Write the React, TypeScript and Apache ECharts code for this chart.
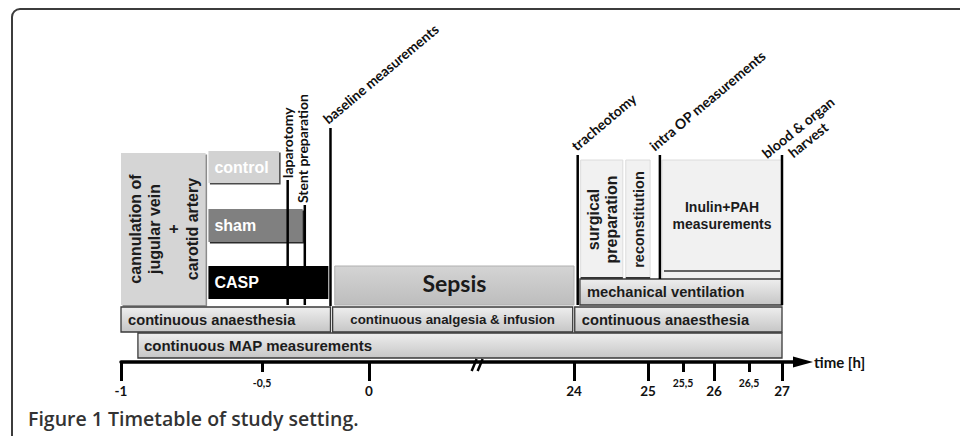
import React, { useEffect, useRef } from 'react';
import * as echarts from 'echarts';

// ---------- data ----------
// broken, schematic time axis: hour values of the ticks and their labels
const tickHours = [-1, -0.5, 0, 24, 25, 25.5, 26, 26.5, 27];
const tickLabels = ['-1', '-0,5', '0', '24', '25', '25,5', '26', '26,5', '27'];
// where each tick sits along the (non-linear) axis, in axis units
const tickSlots = [0, 141, 248, 453, 527, 562, 593, 628, 661];
const axisEndSlot = 682;
const axisTitle = 'time [h]';

// phases (boxes): label, start hour, end hour, row, look
const phaseNames = [
  'cannulation of\njugular vein\n+\ncarotid artery',
  'control',
  'sham',
  'CASP',
  'Sepsis',
  'surgical\npreparation',
  'reconstitution',
  'Inulin+PAH\nmeasurements',
  'mechanical ventilation',
  'continuous anaesthesia',
  'continuous analgesia & infusion',
  'continuous anaesthesia',
  'continuous MAP measurements',
];
const phaseStart = [-1, -0.69, -0.69, -0.69, -0.16, 24.09, 24.7, 25.2, 24.08, -1, -0.17, 24.01, -0.94];
const phaseEnd = [-0.7, -0.42, -0.31, -0.19, 24.0, 24.66, 25.03, 27, 27, -0.18, 23.85, 27, 27];
const phaseRow = ['cannulation', 'control', 'sham', 'casp', 'sepsis', 'op', 'op', 'op', 'ventilation', 'anaesthesia', 'anaesthesia', 'anaesthesia', 'map'];
const phaseLook = ['cannula', 'control', 'sham', 'casp', 'sepsis', 'opV', 'opV2', 'inulin', 'bar', 'bar', 'barCenter', 'bar', 'barMap'];

// events (vertical markers)
const eventNames = ['laparotomy', 'Stent preparation', 'baseline measurements', 'tracheotomy', 'intra OP measurements', 'blood & organ\nharvest'];
const eventHours = [-0.38, -0.3, -0.18, 24.05, 25.17, 27];

const caption = 'Figure 1 Timetable of study setting.';

// ---------- helpers ----------
function hourToSlot(h: number): number {
  const n = tickHours.length;
  for (let i = 0; i < n - 1; i++) {
    if (h <= tickHours[i + 1] || i === n - 2) {
      const t = (h - tickHours[i]) / (tickHours[i + 1] - tickHours[i]);
      return tickSlots[i] + t * (tickSlots[i + 1] - tickSlots[i]);
    }
  }
  return 0;
}

const ARIAL = '"Liberation Sans", Arial, sans-serif';
const CALIBRI = 'Lato, "Open Sans", sans-serif';

// layout (vertical rows, in y-axis units)
const Y_MAX = 362;
const ROWS: Record<string, [number, number]> = {
  cannulation: [153, 305],
  control: [151, 183],
  sham: [209, 242],
  casp: [266, 299],
  sepsis: [266, 305],
  op: [160, 279],
  ventilation: [279, 305],
  anaesthesia: [307, 332],
  map: [333, 358],
};
const EVENT_LAYOUT = [
  { top: 180, bottom: 305, mode: 'vertical', dx: 0, dy: -2 },
  { top: 205, bottom: 305, mode: 'vertical', dx: -2, dy: -2 },
  { top: 128, bottom: 306, mode: 'diag', dx: -1, dy: -2 },
  { top: 155, bottom: 305, mode: 'diag', dx: 0, dy: -2 },
  { top: 155, bottom: 279, mode: 'diag', dx: -4, dy: -2 },
  { top: 155, bottom: 305, mode: 'diag2', dx: 31, dy: -9 },
];

function grad(a: string, b: string) {
  return new echarts.graphic.LinearGradient(0, 0, 0, 1, [
    { offset: 0, color: a },
    { offset: 1, color: b },
  ]);
}

function lookStyle(look: string): any {
  const bar = { fill: grad('#eeeeee', '#c6c6c6'), stroke: '#3a3a3a', lineWidth: 1.3, text: 'left', size: 14.7, pad: 7, color: '#1c1c1c', family: ARIAL };
  switch (look) {
    case 'cannula':
      return { fill: '#d5d5d5', shadow: '#8c8c8c', text: 'vertical', size: 16, lineHeight: 19, color: '#1c1c1c', family: ARIAL };
    case 'control':
      return { fill: '#d2d2d2', shadow: '#4a4a4a', text: 'left', size: 16, pad: 6, color: '#ffffff', family: ARIAL };
    case 'sham':
      return { fill: '#808080', shadow: '#2a2a2a', text: 'left', size: 16, pad: 6, color: '#ffffff', family: ARIAL };
    case 'casp':
      return { fill: '#000000', text: 'left', size: 16, pad: 6, color: '#ffffff', family: ARIAL };
    case 'sepsis':
      return { fill: grad('#d4d4d4', '#bdbdbd'), stroke: '#b0b0b0', lineWidth: 1, text: 'center', size: 23, dy: -3, color: '#1a1a1a', family: CALIBRI };
    case 'opV':
      return { fill: '#f1f1f1', stroke: '#dcdcdc', lineWidth: 1, bottom: '#333333', text: 'vertical', size: 16, lineHeight: 18, color: '#1c1c1c', family: ARIAL };
    case 'opV2':
      return { fill: '#f1f1f1', stroke: '#dcdcdc', lineWidth: 1, bottom: '#333333', text: 'vertical', size: 14.5, lineHeight: 18, color: '#1c1c1c', family: ARIAL };
    case 'inulin':
      return { fill: '#f1f1f1', stroke: '#dcdcdc', lineWidth: 1, inner: '#333333', text: 'center', size: 14, lineHeight: 17, dy: -4, color: '#1c1c1c', family: ARIAL };
    case 'barCenter':
      return { ...bar, text: 'center', size: 13.3 };
    case 'barMap':
      return { ...bar, size: 15, pad: 6 };
    default:
      return bar;
  }
}

const intIdx = tickHours.map((h, i) => i).filter((i) => Number.isInteger(tickHours[i]));
const halfIdx = tickHours.map((h, i) => i).filter((i) => !Number.isInteger(tickHours[i]));

function labelFor(v: number): string {
  const i = tickSlots.findIndex((s) => Math.abs(s - v) < 0.01);
  return i >= 0 ? tickLabels[i] : '';
}

export default function App() {
  const ref = useRef<HTMLDivElement>(null);
  useEffect(() => {
    document.body.style.margin = '0';
    if (!ref.current) return;
    const chart = echarts.init(ref.current, undefined, { renderer: 'svg' });

    const phaseData = phaseNames.map((_, i) => [hourToSlot(phaseStart[i]), hourToSlot(phaseEnd[i]), i]);
    const eventData = eventHours.map((h, i) => [hourToSlot(h), i]);
    const breakSlot = tickSlots[2] + 0.53 * (tickSlots[3] - tickSlots[2]);

    const option: any = {
      animation: false,
      title: {
        text: caption,
        left: 28,
        top: 408,
        padding: 0,
        textStyle: { fontFamily: '"Open Sans", sans-serif', fontWeight: 600, fontSize: 19.5, color: '#333333' },
      },
      graphic: [
        {
          type: 'rect',
          silent: true,
          z: -10,
          shape: { x: 12, y: 9, width: 1000, height: 600, r: 8 },
          style: { fill: 'none', stroke: '#3c3c3c', lineWidth: 2 },
        },
      ],
      grid: { left: 121, top: 0, width: axisEndSlot, height: Y_MAX, outerBoundsMode: 'none' },
      xAxis: [
        {
          type: 'value',
          min: 0,
          max: axisEndSlot,
          position: 'bottom',
          splitLine: { show: false },
          axisLine: {
            show: true,
            onZero: false,
            symbol: ['none', 'triangle'],
            symbolSize: [11, 20],
            lineStyle: { color: '#000000', width: 3.5 },
          },
          axisTick: {
            show: true,
            customValues: intIdx.map((i) => tickSlots[i]),
            length: 19,
            lineStyle: { color: '#000000', width: 3 },
          },
          axisLabel: {
            show: true,
            customValues: intIdx.map((i) => tickSlots[i]),
            formatter: (v: number) => labelFor(v),
            margin: 22,
            fontFamily: CALIBRI,
            fontWeight: 'bold',
            fontSize: 13.5,
            color: '#111111',
          },
          name: axisTitle,
          nameLocation: 'end',
          nameGap: 11,
          nameTextStyle: { fontFamily: CALIBRI, fontWeight: 'bold', fontSize: 15, color: '#111111', align: 'left', verticalAlign: 'middle' },
        },
        {
          // half-hour ticks: a second axis moved onto the same baseline
          type: 'value',
          min: 0,
          max: axisEndSlot,
          position: 'top',
          offset: -Y_MAX,
          splitLine: { show: false },
          axisLine: { show: false, onZero: false },
          axisTick: {
            show: true,
            inside: true,
            customValues: halfIdx.map((i) => tickSlots[i]),
            length: 10,
            lineStyle: { color: '#000000', width: 3 },
          },
          axisLabel: {
            show: true,
            inside: true,
            customValues: halfIdx.map((i) => tickSlots[i]),
            formatter: (v: number) => labelFor(v),
            margin: 15,
            fontFamily: CALIBRI,
            fontWeight: 'bold',
            fontSize: 10.5,
            color: '#111111',
          },
        },
      ],
      yAxis: { type: 'value', min: 0, max: Y_MAX, inverse: true, show: false },
      series: [
        {
          type: 'custom',
          name: 'phases',
          coordinateSystem: 'cartesian2d',
          xAxisIndex: 0,
          yAxisIndex: 0,
          clip: false,
          silent: true,
          encode: { x: [0, 1] },
          data: phaseData,
          renderItem: (params: any, api: any) => {
            const i = api.value(2);
            const st = lookStyle(phaseLook[i]);
            const [r0, r1] = ROWS[phaseRow[i]];
            const a = api.coord([api.value(0), r0]);
            const b = api.coord([api.value(1), r1]);
            const x = a[0];
            const y = a[1];
            const w = b[0] - a[0];
            const h = b[1] - a[1];
            const children: any[] = [];
            if (st.shadow) {
              children.push({ type: 'rect', shape: { x: x + 1.5, y: y + 1.5, width: w, height: h }, style: { fill: st.shadow } });
            }
            children.push({
              type: 'rect',
              shape: { x, y, width: w, height: h },
              style: { fill: st.fill, stroke: st.stroke || null, lineWidth: st.lineWidth || 0 },
            });
            if (st.bottom) {
              children.push({ type: 'line', shape: { x1: x, y1: y + h - 1, x2: x + w, y2: y + h - 1 }, style: { stroke: st.bottom, lineWidth: 2 } });
            }
            if (st.inner) {
              children.push({ type: 'line', shape: { x1: x + 2, y1: y + h - 8, x2: x + w - 2, y2: y + h - 8 }, style: { stroke: st.inner, lineWidth: 1.5 } });
            }
            const textStyle: any = {
              text: phaseNames[i],
              fill: st.color,
              fontFamily: st.family,
              fontWeight: 'bold',
              fontSize: st.size,
              lineHeight: st.lineHeight || st.size * 1.2,
            };
            if (st.text === 'left') {
              children.push({ type: 'text', x: x + st.pad, y: y + h / 2, style: { ...textStyle, align: 'left', verticalAlign: 'middle' } });
            } else if (st.text === 'center') {
              children.push({ type: 'text', x: x + w / 2, y: y + h / 2 + (st.dy || 0), style: { ...textStyle, align: 'center', verticalAlign: 'middle' } });
            } else {
              children.push({ type: 'text', x: x + w / 2 + 1, y: y + h / 2, rotation: Math.PI / 2, style: { ...textStyle, align: 'center', verticalAlign: 'middle' } });
            }
            return { type: 'group', children };
          },
        },
        {
          type: 'custom',
          name: 'events',
          coordinateSystem: 'cartesian2d',
          clip: false,
          silent: true,
          encode: { x: 0 },
          data: eventData,
          z: 5,
          renderItem: (params: any, api: any) => {
            const i = api.value(1);
            const lay = EVENT_LAYOUT[i];
            const top = api.coord([api.value(0), lay.top]);
            const bot = api.coord([api.value(0), lay.bottom]);
            const children: any[] = [
              { type: 'line', shape: { x1: top[0], y1: top[1], x2: bot[0], y2: bot[1] }, style: { stroke: '#000000', lineWidth: 2.5 } },
            ];
            const base = { text: eventNames[i], fill: '#111111', fontFamily: CALIBRI, fontWeight: 'bold', fontSize: 14 };
            if (lay.mode === 'vertical') {
              children.push({ type: 'text', x: top[0] + lay.dx, y: top[1] + lay.dy, rotation: Math.PI / 2, style: { ...base, align: 'left', verticalAlign: 'middle' } });
            } else if (lay.mode === 'diag') {
              children.push({ type: 'text', x: top[0] + lay.dx, y: top[1] + lay.dy, rotation: 0.7, style: { ...base, align: 'left', verticalAlign: 'bottom' } });
            } else {
              children.push({ type: 'text', x: top[0] + lay.dx, y: top[1] + lay.dy, rotation: 0.68, style: { ...base, align: 'center', verticalAlign: 'bottom', lineHeight: 16 } });
            }
            return { type: 'group', children };
          },
        },
        {
          type: 'custom',
          name: 'axisBreak',
          coordinateSystem: 'cartesian2d',
          clip: false,
          silent: true,
          encode: { x: 0 },
          data: [[breakSlot]],
          z: 6,
          renderItem: (params: any, api: any) => {
            const p = api.coord([api.value(0), Y_MAX]);
            const x = p[0];
            const y = p[1] + 3;
            return {
              type: 'group',
              children: [
                { type: 'line', shape: { x1: x - 6, y1: y + 6, x2: x - 1, y2: y - 6 }, style: { stroke: '#000000', lineWidth: 2.5 } },
                { type: 'line', shape: { x1: x, y1: y + 6, x2: x + 5, y2: y - 6 }, style: { stroke: '#000000', lineWidth: 2.5 } },
              ],
            };
          },
        },
      ],
    };
    chart.setOption(option);
    return () => chart.dispose();
  }, []);
  return <div ref={ref} style={{ position: 'fixed', left: 0, top: 0, width: 960, height: 436, background: '#ffffff' }} />;
}
